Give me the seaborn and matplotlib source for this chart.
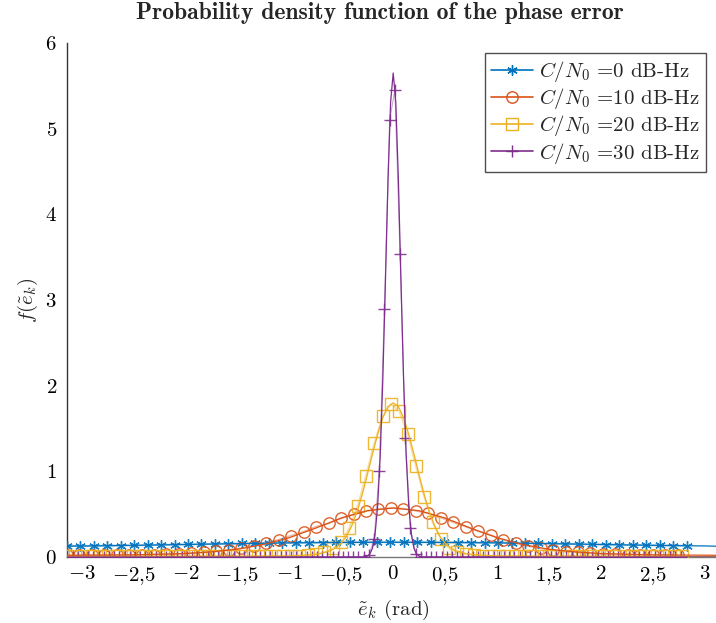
import numpy as np
import matplotlib
matplotlib.use("Agg")
import matplotlib.pyplot as plt
from matplotlib.lines import Line2D
import seaborn as sns

sns.set_style("white")
plt.rcParams["font.family"] = ["cmr10", "DejaVu Serif"]
plt.rcParams["mathtext.fontset"] = "cm"
plt.rcParams["axes.unicode_minus"] = False
plt.rcParams["axes.formatter.use_mathtext"] = True

PI = np.pi
labels = [r"$C/N_0$ =0 dB-Hz", r"$C/N_0$ =10 dB-Hz",
          r"$C/N_0$ =20 dB-Hz", r"$C/N_0$ =30 dB-Hz"]
colors = ["#0072BD", "#D95319", "#EDB120", "#7E2F8E"]

# ---------------- theoretical curves (thin lines) ----------------
th0_x = [-PI, -3.0, -2.5, -2.0, -1.5, -1.0, -0.5, 0.0, 0.5, 1.0, 1.5, 2.0, 2.5, 3.0, PI]
th0_y = [0.126, 0.128, 0.136, 0.146, 0.156, 0.165, 0.170, 0.172, 0.170, 0.165, 0.156, 0.146, 0.136, 0.129, 0.125]

th10_x = [-PI, -2.5, -2.0, -1.75, -1.5, -1.25, -1.0, -0.75, -0.5, -0.25, 0.0,
          0.25, 0.5, 0.75, 1.0, 1.25, 1.5, 1.75, 2.0, 2.5, PI]
th10_y = [0.02, 0.025, 0.04, 0.06, 0.09, 0.145, 0.225, 0.335, 0.455, 0.54, 0.572,
          0.54, 0.455, 0.335, 0.225, 0.145, 0.09, 0.06, 0.04, 0.025, 0.02]

th20_x = [-PI, -1.5, -1.0, -0.8, -0.7, -0.6, -0.55, -0.5, -0.45, -0.4, -0.35, -0.3, -0.25,
          -0.2, -0.15, -0.1, -0.05, 0.0, 0.05, 0.1, 0.15, 0.2, 0.25, 0.3, 0.35, 0.4,
          0.45, 0.5, 0.55, 0.6, 0.7, 0.8, 1.0, 1.5, PI]
th20_y = [0.005, 0.008, 0.012, 0.025, 0.04, 0.075, 0.11, 0.16, 0.24, 0.36, 0.52, 0.72, 0.955,
          1.20, 1.43, 1.626, 1.755, 1.80, 1.755, 1.626, 1.43, 1.20, 0.955, 0.72, 0.52, 0.36,
          0.24, 0.16, 0.11, 0.075, 0.04, 0.025, 0.012, 0.008, 0.005]

th30_x = [-PI, -0.35, -0.3, -0.275, -0.25, -0.225, -0.2, -0.175, -0.15, -0.125, -0.1, -0.075,
          -0.05, -0.025, 0.0, 0.025, 0.05, 0.075, 0.1, 0.125, 0.15, 0.175, 0.2, 0.225, 0.25,
          0.275, 0.3, 0.35, PI]
th30_y = [0.0, 0.0, 0.0, 0.002, 0.01, 0.035, 0.10, 0.26, 0.59, 1.18, 2.07, 3.21,
          4.40, 5.31, 5.65, 5.31, 4.40, 3.21, 2.07, 1.18, 0.59, 0.26, 0.10, 0.035, 0.01,
          0.002, 0.0, 0.0, 0.0]

# ---------------- simulated points (markers) ----------------
sim0_x = np.round(-PI + 0.1297 * np.arange(47), 4)
sim0_y = [0.128, 0.129, 0.130, 0.132, 0.134, 0.136, 0.138, 0.141, 0.144, 0.146,
          0.149, 0.152, 0.155, 0.158, 0.160, 0.162, 0.164, 0.166, 0.168, 0.169,
          0.170, 0.171, 0.172, 0.172, 0.172, 0.172, 0.172, 0.171, 0.170, 0.169,
          0.168, 0.167, 0.165, 0.163, 0.161, 0.159, 0.156, 0.153, 0.150, 0.147,
          0.145, 0.142, 0.139, 0.137, 0.135, 0.133, 0.131]

sim10_x = np.round(-PI + 0.12 * np.arange(50), 4)
sim10_y = [0.020, 0.020, 0.020, 0.021, 0.022, 0.023, 0.024, 0.027, 0.032, 0.037,
           0.045, 0.055, 0.065, 0.085, 0.105, 0.130, 0.165, 0.200, 0.249, 0.295,
           0.354, 0.393, 0.451, 0.498, 0.537, 0.560, 0.572, 0.564, 0.540, 0.510,
           0.459, 0.405, 0.354, 0.300, 0.257, 0.198, 0.160, 0.128, 0.100, 0.082,
           0.062, 0.055, 0.043, 0.035, 0.031, 0.025, 0.023, 0.022, 0.021, 0.020]

sim20_x = np.round(-PI + 0.08 * np.arange(75), 4)
sim20_y = [0.01, 0.01, 0.01, 0.01, 0.01, 0.01, 0.01, 0.01, 0.01, 0.01,
           0.01, 0.01, 0.01, 0.01, 0.01, 0.01, 0.01, 0.01, 0.01, 0.01,
           0.01, 0.01, 0.01, 0.01, 0.01, 0.01, 0.012, 0.013, 0.015, 0.02,
           0.03, 0.055, 0.10, 0.17, 0.34, 0.60, 0.95, 1.33, 1.645, 1.785,
           1.70, 1.435, 1.06, 0.70, 0.405, 0.21, 0.10, 0.055, 0.03, 0.02,
           0.015, 0.013, 0.012, 0.01, 0.01, 0.01, 0.01, 0.01, 0.01, 0.01,
           0.01, 0.01, 0.01, 0.01, 0.01, 0.01, 0.01, 0.01, 0.01, 0.01,
           0.01, 0.01, 0.01, 0.01, 0.01]

sim30_x = np.round(-3.134 + 0.05 * np.arange(119), 4)
sim30_y = [0.0, 0.0, 0.0, 0.0, 0.0, 0.0, 0.0, 0.0, 0.0, 0.0,
           0.0, 0.0, 0.0, 0.0, 0.0, 0.0, 0.0, 0.0, 0.0, 0.0,
           0.0, 0.0, 0.0, 0.0, 0.0, 0.0, 0.0, 0.0, 0.0, 0.0,
           0.0, 0.0, 0.0, 0.0, 0.0, 0.0, 0.0, 0.0, 0.0, 0.0,
           0.0, 0.0, 0.0, 0.0, 0.0, 0.0, 0.0, 0.0, 0.0, 0.0,
           0.0, 0.0, 0.0, 0.0, 0.0, 0.0, 0.0, 0.0, 0.02, 0.21,
           1.00, 2.90, 5.10, 5.45, 3.54, 1.39, 0.34, 0.04, 0.0, 0.0,
           0.0, 0.0, 0.0, 0.0, 0.0, 0.0, 0.0, 0.0, 0.0, 0.0,
           0.0, 0.0, 0.0, 0.0, 0.0, 0.0, 0.0, 0.0, 0.0, 0.0,
           0.0, 0.0, 0.0, 0.0, 0.0, 0.0, 0.0, 0.0, 0.0, 0.0,
           0.0, 0.0, 0.0, 0.0, 0.0, 0.0, 0.0, 0.0, 0.0, 0.0,
           0.0, 0.0, 0.0, 0.0, 0.0, 0.0, 0.0, 0.0, 0.0]

x_ticks = [-3, -2.5, -2, -1.5, -1, -0.5, 0, 0.5, 1, 1.5, 2, 2.5, 3]
x_ticklabels = [r"$-3$", r"$-2{,}5$", r"$-2$", r"$-1{,}5$", r"$-1$", r"$-0{,}5$", r"$0$",
                r"$0{,}5$", r"$1$", r"$1{,}5$", r"$2$", r"$2{,}5$", r"$3$"]
y_ticks = [0, 1, 2, 3, 4, 5, 6]

theory = [(th0_x, th0_y), (th10_x, th10_y), (th20_x, th20_y), (th30_x, th30_y)]
sims = [(sim0_x, sim0_y), (sim10_x, sim10_y), (sim20_x, sim20_y), (sim30_x, sim30_y)]
markers = [(6, 2, 0), "o", "s", "+"]
msizes = [7.5, 8.2, 8.2, 8.5]
sim_lw = [1.4, 1.3, 1.3, 0.8]

fig = plt.figure(figsize=(7.16, 6.23), dpi=100)
ax = fig.add_axes([66.7 / 716, 66 / 623, 653 / 716, 514 / 623])

for (sx, sy), c, m, ms, lw in zip(sims, colors, markers, msizes, sim_lw):
    mfc = "none" if m in ("o", "s") else c
    sns.lineplot(x=list(sx), y=list(sy), ax=ax, color=c, lw=lw, alpha=0.4,
                 estimator=None, sort=False, zorder=2)
    sns.lineplot(x=list(sx), y=list(sy), ax=ax, color=c, lw=0, marker=m, markersize=ms,
                 markerfacecolor=mfc, markeredgecolor=c, markeredgewidth=1.0, alpha=0.9,
                 estimator=None, sort=False, zorder=3)
for (tx, ty), c in zip(theory, colors):
    sns.lineplot(x=tx, y=ty, ax=ax, color=c, lw=0.9, estimator=None, sort=False, zorder=4)

ax.set_xlim(-PI, PI)
ax.set_ylim(0, 6)
ax.set_xticks(x_ticks)
ax.set_xticklabels(x_ticklabels)
ax.set_yticks(y_ticks)
ax.set_yticklabels([r"$%d$" % v for v in y_ticks])
ax.tick_params(axis="both", direction="in", length=5, width=0.8, color="#888888",
               labelsize=15, labelcolor="black")
ax.tick_params(axis="x", pad=6)
ax.tick_params(axis="y", pad=7)
for s in ("top", "right"):
    ax.spines[s].set_visible(False)
ax.spines["left"].set_color("#333333")
ax.spines["left"].set_linewidth(1.0)
ax.spines["bottom"].set_color("#777777")
ax.spines["bottom"].set_linewidth(1.0)
ax.set_facecolor("white")
ax.grid(False)

ax.set_xlabel(r"$\tilde{e}_k$ (rad)", fontsize=15, labelpad=8)
ax.set_ylabel(r"$f(\tilde{e}_k)$", fontsize=15, labelpad=4)

fig.text(380 / 716, 1 - 13 / 623, "Probability density function of the phase error",
         ha="center", va="center", fontsize=17, family=["cmb10", "DejaVu Serif"])

handles = []
for c, m, ms in zip(colors, markers, msizes):
    mfc = "none" if m in ("o", "s") else c
    handles.append(Line2D([], [], color=c, lw=1.2, marker=m, markersize=ms,
                          markerfacecolor=mfc, markeredgecolor=c, markeredgewidth=1.0))
leg = ax.legend(handles, labels, loc="upper right",
                bbox_to_anchor=(706 / 716, 1 - 53 / 623), bbox_transform=fig.transFigure,
                borderaxespad=0, fontsize=15, frameon=True, fancybox=False,
                handlelength=2.0, handletextpad=0.3, labelspacing=0.1,
                borderpad=0.3)
leg.get_frame().set_edgecolor("#222222")
leg.get_frame().set_linewidth(1.0)

fig.savefig("out.png", dpi=100)
